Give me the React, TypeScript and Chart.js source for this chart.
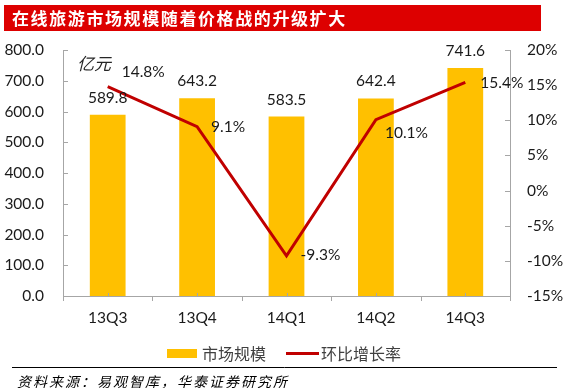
import React, { useEffect, useRef } from "react";
import { Chart, registerables } from "chart.js";

Chart.register(...registerables);

const categories = ["13Q3", "13Q4", "14Q1", "14Q2", "14Q3"];
const marketSize = [589.8, 643.2, 583.5, 642.4, 741.6];
const growthRate = [14.8, 9.1, -9.3, 10.1, 15.4];
const seriesNames = ["市场规模", "环比增长率"];
const titleText = "在线旅游市场规模随着价格战的升级扩大";
const unitText = "亿元";
const sourceText = "资料来源：易观智库，华泰证券研究所";

const BAR = "#FFC000";
const LINE = "#C00000";
const AXIS = "#A6A6A6";
const TEXT = "#1a1a1a";
const NUM_FONT = "Lato, 'Open Sans', sans-serif";
const CJK_FONT = "'Noto Sans CJK SC', sans-serif";

function drawSpaced(ctx: CanvasRenderingContext2D, s: string, x: number, y: number, step: number) {
  const chars = Array.from(s);
  chars.forEach((c, i) => ctx.fillText(c, x + i * step, y));
}

const decorPlugin = {
  id: "decor",
  beforeDraw(chart: any) {
    const ctx = chart.ctx as CanvasRenderingContext2D;
    ctx.save();
    ctx.fillStyle = "#ffffff";
    ctx.fillRect(0, 0, chart.width, chart.height);
    // title bar
    ctx.fillStyle = "#DD0000";
    ctx.fillRect(4, 5, 537, 26);
    ctx.fillStyle = "#ffffff";
    ctx.font = `bold 17px ${CJK_FONT}`;
    ctx.textBaseline = "middle";
    ctx.textAlign = "left";
    drawSpaced(ctx, titleText, 12, 18.5, 18.6);
    ctx.restore();
  },
  afterDraw(chart: any) {
    const ctx = chart.ctx as CanvasRenderingContext2D;
    const area = chart.chartArea;
    const x = chart.scales.x;
    const y = chart.scales.y;
    const y1 = chart.scales.y1;
    ctx.save();
    // inward tick marks
    ctx.strokeStyle = AXIS;
    ctx.lineWidth = 1;
    ctx.beginPath();
    y.ticks.forEach((t: any) => {
      const py = Math.round(y.getPixelForValue(t.value)) + 0.5;
      ctx.moveTo(area.left, py);
      ctx.lineTo(area.left + 5, py);
    });
    y1.ticks.forEach((t: any) => {
      const py = Math.round(y1.getPixelForValue(t.value)) + 0.5;
      ctx.moveTo(area.right, py);
      ctx.lineTo(area.right - 5, py);
    });
    const n = categories.length;
    const w = (area.right - area.left) / n;
    for (let i = 0; i <= n; i++) {
      const px = Math.round(area.left + i * w) + 0.5;
      ctx.moveTo(px, area.bottom);
      ctx.lineTo(px, area.bottom + 5);
    }
    for (let i = 0; i < n; i++) {
      const px = Math.round(x.getPixelForValue(i)) + 0.5;
      ctx.moveTo(px, area.bottom);
      ctx.lineTo(px, area.bottom - 3);
    }
    ctx.stroke();

    // bar labels
    ctx.fillStyle = TEXT;
    ctx.font = `15.5px ${NUM_FONT}`;
    ctx.textAlign = "center";
    ctx.textBaseline = "middle";
    const barMeta = chart.getDatasetMeta(0);
    barMeta.data.forEach((el: any, i: number) => {
      ctx.fillText(marketSize[i].toFixed(1), el.x, el.y - 17);
    });
    // line labels
    const offsets = [[14, -15], [14, 0], [14, -1], [9, 13], [15, 1]];
    const lineMeta = chart.getDatasetMeta(1);
    ctx.textAlign = "left";
    lineMeta.data.forEach((el: any, i: number) => {
      const o = offsets[i];
      ctx.fillText(growthRate[i].toFixed(1) + "%", el.x + o[0], el.y + o[1]);
    });

    // unit
    ctx.font = `italic 17px ${CJK_FONT}`;
    ctx.fillStyle = "#262626";
    ctx.fillText(unitText, 77, 64);

    // legend
    ctx.fillStyle = BAR;
    ctx.fillRect(167, 349, 30, 9);
    ctx.strokeStyle = LINE;
    ctx.lineWidth = 3;
    ctx.beginPath();
    ctx.moveTo(286, 353.5);
    ctx.lineTo(319, 353.5);
    ctx.stroke();
    ctx.fillStyle = "#404040";
    ctx.font = `16px ${CJK_FONT}`;
    ctx.textBaseline = "middle";
    ctx.fillText(seriesNames[0], 202, 354);
    ctx.fillText(seriesNames[1], 321, 354);

    // footer
    ctx.strokeStyle = "#000000";
    ctx.lineWidth = 1;
    ctx.beginPath();
    ctx.moveTo(12, 367.5);
    ctx.lineTo(557, 367.5);
    ctx.stroke();
    ctx.fillStyle = "#000000";
    ctx.font = `italic 14px ${CJK_FONT}`;
    drawSpaced(ctx, sourceText, 17, 382, 16);
    ctx.restore();
  },
};

export default function App() {
  const ref = useRef<HTMLCanvasElement | null>(null);
  useEffect(() => {
    if (!ref.current) return;
    const chart = new Chart(ref.current, {
      type: "bar",
      data: {
        labels: categories,
        datasets: [
          {
            type: "bar",
            label: seriesNames[0],
            data: marketSize,
            backgroundColor: BAR,
            yAxisID: "y",
            barPercentage: 0.4,
            categoryPercentage: 1,
            order: 1,
          },
          {
            type: "line",
            label: seriesNames[1],
            data: growthRate,
            borderColor: LINE,
            borderWidth: 3,
            pointRadius: 0,
            tension: 0,
            yAxisID: "y1",
            order: 0,
          } as any,
        ],
      },
      options: {
        responsive: false,
        animation: false,
        devicePixelRatio: 1,
        layout: { padding: { top: 50, left: 0, right: 0, bottom: 0 } },
        plugins: { legend: { display: false }, tooltip: { enabled: false } },
        scales: {
          x: {
            grid: { display: false, drawTicks: false },
            border: { display: true, color: AXIS },
            ticks: { color: TEXT, font: { family: NUM_FONT, size: 15.5 }, padding: 13 },
            afterFit: (s: any) => { s.height = 92; },
          },
          y: {
            position: "left",
            min: 0,
            max: 800,
            grid: { display: false, drawTicks: false },
            border: { display: true, color: AXIS },
            ticks: {
              stepSize: 100,
              color: TEXT,
              font: { family: NUM_FONT, size: 15.5 },
              padding: 19,
              callback: (v: any) => Number(v).toFixed(1),
            },
            afterFit: (s: any) => { s.width = 63; },
          },
          y1: {
            position: "right",
            min: -15,
            max: 20,
            grid: { display: false, drawTicks: false },
            border: { display: true, color: AXIS },
            ticks: {
              stepSize: 5,
              color: TEXT,
              font: { family: NUM_FONT, size: 15.5 },
              padding: 17,
              callback: (v: any) => v + "%",
            },
            afterFit: (s: any) => { s.width = 59; },
          },
        },
      },
      plugins: [decorPlugin],
    });
    return () => chart.destroy();
  }, []);
  return (
    <div style={{ position: "absolute", left: 0, top: 0, width: 569, height: 388 }}>
      <canvas ref={ref} width={569} height={388} />
    </div>
  );
}
